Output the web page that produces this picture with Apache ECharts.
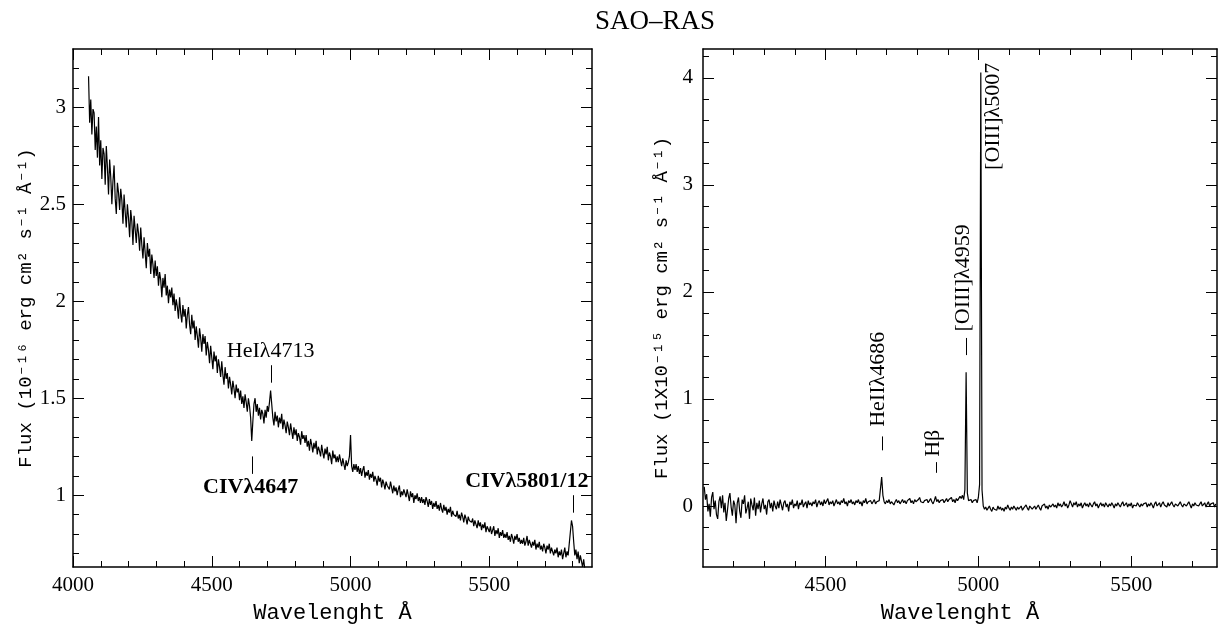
<!DOCTYPE html>
<html>
<head>
<meta charset="utf-8">
<script src="https://cdn.jsdelivr.net/npm/echarts@6/dist/echarts.min.js"></script>
<style>
  html, body { margin: 0; padding: 0; background: #fff; }
  #chart { width: 1221px; height: 637px; }
</style>
</head>
<body>
<div id="chart"></div>
<script>
// ---- Left spectrum: continuum with Wolf-Rayet features (flux in 1e-16 units) ----
const LEFT_START = 4056;   // first wavelength sample, Angstrom
const LEFT_STEP = 4;       // sampling step, Angstrom
const LEFT_FLUX = [
  3.16, 2.92, 3.04, 2.86, 2.99, 2.97, 2.78, 2.90, 2.74, 2.95, 2.70, 2.83, 2.63, 2.79, 2.76,
  2.60, 2.80, 2.69, 2.55, 2.73, 2.64, 2.50, 2.62, 2.70, 2.53, 2.45, 2.61, 2.56, 2.47, 2.58,
  2.52, 2.40, 2.55, 2.46, 2.38, 2.50, 2.43, 2.33, 2.47, 2.41, 2.29, 2.44, 2.37, 2.30, 2.40,
  2.35, 2.26, 2.38, 2.29, 2.22, 2.33, 2.25, 2.17, 2.30, 2.23, 2.27, 2.14, 2.24, 2.19, 2.12,
  2.21, 2.13, 2.18, 2.08, 2.15, 2.11, 2.02, 2.12, 2.07, 2.14, 2.03, 2.08, 1.99, 2.06, 2.02,
  2.07, 1.98, 2.04, 1.95, 2.01, 1.97, 1.91, 2.02, 1.94, 1.89, 1.98, 1.92, 1.96, 1.86, 1.93,
  1.97, 1.88, 1.83, 1.93, 1.86, 1.90, 1.80, 1.87, 1.82, 1.76, 1.86, 1.81, 1.74, 1.83, 1.78,
  1.82, 1.72, 1.79, 1.75, 1.68, 1.77, 1.71, 1.65, 1.74, 1.69, 1.72, 1.63, 1.70, 1.66, 1.61,
  1.69, 1.62, 1.57, 1.66, 1.60, 1.63, 1.55, 1.61, 1.57, 1.52, 1.59, 1.55, 1.50, 1.57, 1.53,
  1.55, 1.49, 1.54, 1.47, 1.51, 1.45, 1.52, 1.48, 1.43, 1.50, 1.46, 1.40, 1.28, 1.38, 1.47,
  1.50, 1.43, 1.47, 1.41, 1.45, 1.39, 1.44, 1.42, 1.37, 1.44, 1.40, 1.46, 1.43, 1.48, 1.54,
  1.47, 1.40, 1.36, 1.43, 1.38, 1.41, 1.35, 1.40, 1.37, 1.42, 1.34, 1.39, 1.36, 1.32, 1.38,
  1.35, 1.31, 1.37, 1.33, 1.29, 1.35, 1.31, 1.34, 1.28, 1.32, 1.30, 1.26, 1.33, 1.29, 1.31,
  1.27, 1.31, 1.25, 1.28, 1.23, 1.29, 1.26, 1.22, 1.27, 1.24, 1.28, 1.21, 1.25, 1.23, 1.20,
  1.26, 1.22, 1.19, 1.24, 1.21, 1.25, 1.18, 1.22, 1.20, 1.16, 1.23, 1.19, 1.21, 1.17, 1.20,
  1.17, 1.21, 1.18, 1.15, 1.19, 1.16, 1.13, 1.18, 1.15, 1.17, 1.20, 1.31, 1.15, 1.12, 1.16,
  1.13, 1.16, 1.12, 1.15, 1.11, 1.14, 1.10, 1.13, 1.15, 1.09, 1.12, 1.10, 1.13, 1.08, 1.11,
  1.09, 1.12, 1.07, 1.10, 1.08, 1.05, 1.10, 1.07, 1.09, 1.04, 1.08, 1.06, 1.03, 1.07, 1.05,
  1.06, 1.03, 1.07, 1.04, 1.01, 1.05, 1.02, 1.04, 1.00, 1.03, 1.05, 0.99, 1.02, 1.00, 1.03,
  1.01, 0.99, 1.03, 1.00, 0.97, 1.02, 0.99, 1.01, 0.96, 1.00, 0.98, 1.01, 0.97, 0.99, 0.96,
  0.99, 0.96, 0.98, 0.95, 0.99, 0.97, 0.94, 0.98, 0.95, 0.97, 0.93, 0.96, 0.94, 0.97, 0.93,
  0.95, 0.92, 0.96, 0.93, 0.91, 0.95, 0.92, 0.94, 0.90, 0.93, 0.91, 0.94, 0.89, 0.92, 0.90,
  0.91, 0.89, 0.92, 0.88, 0.90, 0.87, 0.91, 0.89, 0.86, 0.90, 0.88, 0.85, 0.89, 0.87, 0.88,
  0.86, 0.88, 0.84, 0.87, 0.85, 0.83, 0.87, 0.84, 0.86, 0.82, 0.85, 0.83, 0.86, 0.81, 0.84,
  0.83, 0.81, 0.84, 0.80, 0.82, 0.84, 0.79, 0.82, 0.80, 0.83, 0.78, 0.81, 0.79, 0.82, 0.78,
  0.80, 0.78, 0.81, 0.77, 0.79, 0.76, 0.80, 0.78, 0.75, 0.79, 0.77, 0.80, 0.76, 0.78, 0.75,
  0.77, 0.75, 0.78, 0.74, 0.76, 0.79, 0.74, 0.77, 0.75, 0.73, 0.76, 0.74, 0.77, 0.72, 0.75,
  0.73, 0.76, 0.72, 0.74, 0.71, 0.75, 0.73, 0.70, 0.74, 0.72, 0.75, 0.70, 0.73, 0.71, 0.69,
  0.72, 0.70, 0.73, 0.68, 0.71, 0.69, 0.72, 0.67, 0.70, 0.73, 0.68, 0.71, 0.69, 0.75, 0.81,
  0.87, 0.84, 0.76, 0.69, 0.72, 0.67, 0.71, 0.65, 0.69, 0.66, 0.63, 0.67, 0.62
];

// ---- Right spectrum: nebular emission lines (flux in 1e-15 units) ----
const RIGHT_START = 4104;
const RIGHT_STEP = 4;
const RIGHT_FLUX = [
  0.18, 0.06, 0.11, -0.05, 0.02, -0.10, 0.08, 0.13, -0.03, 0.05, -0.08, -0.12, 0.04, 0.09, -0.02,
  0.10, -0.06, 0.03, -0.14, -0.04, 0.07, 0.12, -0.01, -0.09, 0.05, 0.01, -0.16, 0.03, 0.08, -0.05,
  -0.11, 0.06, 0.02, 0.10, -0.07, -0.02, 0.04, -0.12, 0.07, 0.01, -0.04, 0.08, -0.09, 0.03, -0.03,
  0.05, -0.06, 0.02, 0.07, -0.03, 0.01, -0.08, 0.04, 0.06, -0.02, 0.03, -0.05, 0.05, 0.00, -0.03,
  0.04, -0.02, 0.06, 0.01, -0.04, 0.03, 0.05, -0.01, 0.02, -0.05, 0.04, 0.01, 0.06, -0.02, 0.02,
  0.00, 0.05, -0.03, 0.03, 0.01, 0.06, -0.01, 0.02, 0.04, -0.02, 0.05, 0.01, 0.03, 0.00, 0.04,
  0.02, 0.06, -0.01, 0.03, 0.05, 0.01, 0.04, 0.00, 0.06, 0.02, 0.03, 0.07, 0.01, 0.04, 0.02,
  0.05, 0.00, 0.03, 0.06, 0.02, 0.04, 0.01, 0.05, 0.03, 0.07, 0.02, 0.04, 0.00, 0.05, 0.03,
  0.06, 0.02, 0.04, 0.01, 0.05, 0.03, 0.06, 0.02, 0.04, 0.00, 0.05, 0.03, 0.07, 0.02, 0.04,
  0.03, 0.05, 0.02, 0.04, 0.06, 0.02, 0.04, 0.03, 0.05, 0.06, 0.27, 0.10, 0.04, 0.02, 0.05,
  0.03, 0.06, 0.02, 0.04, 0.05, 0.01, 0.04, 0.06, 0.03, 0.05, 0.02, 0.04, 0.06, 0.03, 0.05,
  0.02, 0.05, 0.04, 0.07, 0.03, 0.05, 0.02, 0.06, 0.04, 0.03, 0.06, 0.08, 0.04, 0.05, 0.03,
  0.05, 0.04, 0.06, 0.03, 0.05, 0.07, 0.04, 0.02, 0.05, 0.09, 0.04, 0.06, 0.03, 0.05, 0.04,
  0.06, 0.03, 0.05, 0.07, 0.04, 0.06, 0.05, 0.08, 0.04, 0.06, 0.03, 0.07, 0.05, 0.06, 0.09,
  0.07, 0.10, 0.06, 0.15, 1.25, 0.12, 0.05, 0.04, 0.06, 0.03, 0.05, 0.04, 0.06, 0.03, 0.08,
  0.20, 4.05, 0.15, 0.00, -0.03, -0.01, -0.04, -0.02, 0.00, -0.03, -0.05, -0.01, -0.03, -0.02, -0.04,
  0.00, -0.03, -0.01, -0.04, -0.02, -0.05, -0.01, -0.03, 0.01, -0.02, -0.04, -0.01, -0.03, 0.00, -0.02,
  -0.04, -0.01, -0.03, -0.02, 0.00, -0.04, -0.02, -0.03, 0.01, -0.02, -0.04, 0.00, -0.01, -0.03, -0.02,
  0.00, -0.03, -0.01, 0.01, -0.02, -0.04, 0.00, -0.01, 0.02, -0.02, 0.00, -0.03, 0.01, -0.01, 0.00,
  0.02, -0.01, 0.01, -0.02, 0.03, 0.00, 0.02, -0.01, 0.01, 0.04, 0.00, 0.02, -0.02, 0.01, 0.05,
  0.02, -0.01, 0.03, 0.01, 0.04, -0.01, 0.02, 0.00, 0.03, -0.02, 0.01, 0.03, 0.00, 0.02, -0.01,
  0.03, 0.01, -0.01, 0.02, 0.04, 0.00, 0.02, -0.02, 0.01, 0.03, 0.00, 0.02, -0.01, 0.03, 0.01,
  -0.01, 0.02, 0.00, 0.03, 0.01, -0.02, 0.02, 0.00, 0.03, 0.01, -0.01, 0.02, 0.04, 0.00, 0.01,
  0.03, -0.01, 0.02, 0.00, 0.03, -0.02, 0.01, 0.02, 0.00, 0.03, 0.01, -0.01, 0.02, 0.00, 0.02,
  0.01, 0.03, -0.01, 0.02, 0.00, 0.03, 0.01, -0.02, 0.02, 0.04, 0.00, 0.01, 0.03, -0.01, 0.02,
  0.04, 0.01, 0.02, -0.01, 0.03, 0.00, 0.02, 0.04, 0.01, -0.01, 0.02, 0.03, 0.00, 0.02, 0.04,
  0.01, -0.01, 0.02, 0.03, 0.00, 0.02, 0.04, 0.01, -0.02, 0.02, 0.00, 0.03, 0.01, 0.02, 0.00,
  0.02, 0.04, 0.00, 0.01, 0.03, -0.01, 0.02, 0.04, 0.00, 0.02, 0.01, 0.03, -0.01, 0.02
];

// ---- Identified lines ----
const LEFT_LINE_NAMES = ['HeIλ4713', 'CIVλ4647', 'CIVλ5801/12'];
const LEFT_LINE_WL = [4713, 4647, 5801];
const RIGHT_LINE_NAMES = ['HeIIλ4686', 'Hβ', '[OIII]λ4959', '[OIII]λ5007'];
const RIGHT_LINE_WL = [4686, 4861, 4959, 5007];

// ---- Axis ticks ----
const LEFT_X_MAJOR = [4000, 4500, 5000, 5500];
const LEFT_X_MINOR = [4100, 4200, 4300, 4400, 4600, 4700, 4800, 4900, 5100, 5200, 5300, 5400, 5600, 5700, 5800];
const LEFT_Y_MAJOR = [1, 1.5, 2, 2.5, 3];
const LEFT_Y_MINOR = [0.7, 0.8, 0.9, 1.1, 1.2, 1.3, 1.4, 1.6, 1.7, 1.8, 1.9, 2.1, 2.2, 2.3, 2.4, 2.6, 2.7, 2.8, 2.9, 3.1, 3.2];
const RIGHT_X_MAJOR = [4500, 5000, 5500];
const RIGHT_X_MINOR = [4200, 4300, 4400, 4600, 4700, 4800, 4900, 5100, 5200, 5300, 5400, 5600, 5700];
const RIGHT_Y_MAJOR = [0, 1, 2, 3, 4];
const RIGHT_Y_MINOR = [-0.4, -0.2, 0.2, 0.4, 0.6, 0.8, 1.2, 1.4, 1.6, 1.8, 2.2, 2.4, 2.6, 2.8, 3.2, 3.4, 3.6, 3.8, 4.2];

const SERIF = '"Liberation Serif", "Times New Roman", serif';
const MONO = '"Liberation Mono", "DejaVu Sans Mono", monospace';

const LEFT_RANGE = { x: [4000, 5870], y: [0.63, 3.3] };
const RIGHT_RANGE = { x: [4100, 5780], y: [-0.57, 4.27] };

// One axis of a framed panel: either the labelled side or a tick-only copy
function axis(o) {
  return {
    type: 'value',
    gridIndex: o.grid,
    min: o.min,
    max: o.max,
    position: o.pos,
    axisLine: { show: !!o.line, onZero: false, lineStyle: { color: '#000', width: 1.5 } },
    axisTick: { show: true, inside: true, length: o.len, customValues: o.ticks,
                lineStyle: { color: '#000', width: 1 } },
    axisLabel: { show: !!o.labels, customValues: o.labels || undefined, color: '#000',
                 fontFamily: SERIF, fontSize: 21, margin: o.margin || 8,
                 formatter: v => String(v) },
    splitLine: { show: false },
    name: o.name || '',
    nameLocation: 'middle',
    nameGap: o.nameGap || 0,
    nameTextStyle: { color: '#000', fontFamily: MONO, fontSize: o.nameSize || 19 }
  };
}

function panelAxes(grid, range, xMaj, xMin, yMaj, yMin, names, yMargin, yNameGap) {
  const xs = [
    axis({ grid, min: range.x[0], max: range.x[1], pos: 'bottom', line: true, len: 11, ticks: xMaj,
           labels: xMaj, margin: 8, name: names.x, nameGap: 35, nameSize: 22 }),
    axis({ grid, min: range.x[0], max: range.x[1], pos: 'bottom', len: 6, ticks: xMin }),
    axis({ grid, min: range.x[0], max: range.x[1], pos: 'top', line: true, len: 11, ticks: xMaj }),
    axis({ grid, min: range.x[0], max: range.x[1], pos: 'top', len: 6, ticks: xMin })
  ];
  const ys = [
    axis({ grid, min: range.y[0], max: range.y[1], pos: 'left', line: true, len: 11, ticks: yMaj,
           labels: yMaj, margin: yMargin, name: names.y, nameGap: yNameGap, nameSize: 19 }),
    axis({ grid, min: range.y[0], max: range.y[1], pos: 'left', len: 6, ticks: yMin }),
    axis({ grid, min: range.y[0], max: range.y[1], pos: 'right', line: true, len: 11, ticks: yMaj }),
    axis({ grid, min: range.y[0], max: range.y[1], pos: 'right', len: 6, ticks: yMin })
  ];
  return { xs, ys };
}

const left = panelAxes(0, LEFT_RANGE, LEFT_X_MAJOR, LEFT_X_MINOR, LEFT_Y_MAJOR, LEFT_Y_MINOR,
  { x: 'Wavelenght Å', y: 'Flux (10⁻¹⁶ erg cm² s⁻¹ Å⁻¹)' }, 7, 36);
const right = panelAxes(1, RIGHT_RANGE, RIGHT_X_MAJOR, RIGHT_X_MINOR, RIGHT_Y_MAJOR, RIGHT_Y_MINOR,
  { x: 'Wavelenght Å', y: 'Flux (1X10⁻¹⁵ erg cm² s⁻¹ Å⁻¹)' }, 10, 32);

const leftData = LEFT_FLUX.map((v, i) => [LEFT_START + i * LEFT_STEP, v]);
const rightData = RIGHT_FLUX.map((v, i) => [RIGHT_START + i * RIGHT_STEP, v]);

function seg(wl, y0, y1) {
  return [{ coord: [wl, y0] }, { coord: [wl, y1] }];
}

const markStyle = {
  silent: true,
  symbol: ['none', 'none'],
  label: { show: false },
  lineStyle: { color: '#000', width: 1, type: 'solid' },
  emphasis: { disabled: true },
  animation: false
};

const labelItem = { color: 'transparent', opacity: 1 };

const option = {
  animation: false,
  backgroundColor: '#fff',
  title: {
    text: 'SAO–RAS',
    left: 590,
    top: 3,
    textStyle: { fontFamily: SERIF, fontSize: 27, fontWeight: 'normal', color: '#000' }
  },
  grid: [
    { left: 73, top: 49, width: 519, height: 518 },
    { left: 703, top: 49, width: 514, height: 518 }
  ],
  xAxis: [...left.xs, ...right.xs],
  yAxis: [...left.ys, ...right.ys],
  series: [
    {
      type: 'line', xAxisIndex: 0, yAxisIndex: 0, data: leftData,
      showSymbol: false, symbol: 'none', silent: true,
      lineStyle: { color: '#000', width: 1.2 },
      markLine: Object.assign({}, markStyle, {
        data: [
          seg(LEFT_LINE_WL[0], 1.58, 1.67),
          seg(LEFT_LINE_WL[1], 1.11, 1.20),
          seg(LEFT_LINE_WL[2], 0.91, 1.00)
        ]
      })
    },
    {
      type: 'line', xAxisIndex: 4, yAxisIndex: 4, data: rightData,
      showSymbol: false, symbol: 'none', silent: true,
      lineStyle: { color: '#000', width: 1.2 },
      markLine: Object.assign({}, markStyle, {
        data: [
          seg(RIGHT_LINE_WL[0], 0.52, 0.65),
          seg(RIGHT_LINE_WL[1], 0.31, 0.41),
          seg(RIGHT_LINE_WL[2], 1.41, 1.57)
        ]
      })
    },
    {
      // line identifications, left panel
      type: 'scatter', xAxisIndex: 0, yAxisIndex: 0, silent: true,
      symbolSize: 1, itemStyle: labelItem,
      label: { show: true, formatter: '{b}', position: 'inside', color: '#000',
               fontFamily: SERIF, fontSize: 22 },
      data: [
        { name: LEFT_LINE_NAMES[0], value: [LEFT_LINE_WL[0] - 1, 1.74] },
        { name: LEFT_LINE_NAMES[1], value: [LEFT_LINE_WL[1] - 7, 1.04], label: { fontWeight: 'bold' } },
        { name: LEFT_LINE_NAMES[2], value: [LEFT_LINE_WL[2] - 166, 1.07], label: { fontWeight: 'bold' } }
      ]
    },
    {
      // line identifications, right panel (reading upwards)
      type: 'scatter', xAxisIndex: 4, yAxisIndex: 4, silent: true,
      symbolSize: 1, itemStyle: labelItem,
      label: { show: true, formatter: '{b}', position: 'inside', rotate: 90,
               align: 'left', verticalAlign: 'middle', color: '#000',
               fontFamily: SERIF, fontSize: 22 },
      data: [
        { name: RIGHT_LINE_NAMES[0], value: [RIGHT_LINE_WL[0] - 12, 0.74] },
        { name: RIGHT_LINE_NAMES[1], value: [RIGHT_LINE_WL[1] - 10, 0.46] },
        { name: RIGHT_LINE_NAMES[2], value: [RIGHT_LINE_WL[2] - 10, 1.63] },
        { name: RIGHT_LINE_NAMES[3], value: [RIGHT_LINE_WL[3] + 41, 3.14] }
      ]
    }
  ]
};

const chart = echarts.init(document.getElementById('chart'), null, { renderer: 'canvas' });
chart.setOption(option);
</script>
</body>
</html>
